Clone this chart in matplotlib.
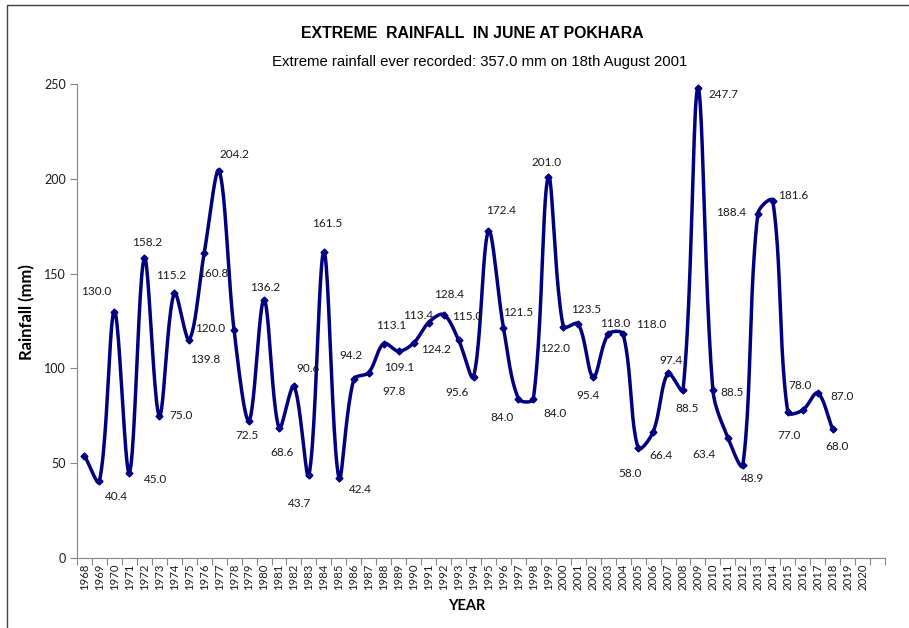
import numpy as np
import matplotlib
matplotlib.use("Agg")
import matplotlib.pyplot as plt
from matplotlib.patches import Rectangle

# categories on the x axis (last slot has no label)
year_labels = [str(y) for y in range(1968, 2021)] + [""]

# June extreme rainfall, 1968-2018 (mm)
rain_years = list(range(1968, 2019))
rainfall = [54.0, 40.4, 130.0, 45.0, 158.2, 75.0, 139.8, 115.2, 160.8, 204.2,
            120.0, 72.5, 136.2, 68.6, 90.6, 43.7, 161.5, 42.4, 94.2, 97.8,
            113.1, 109.1, 113.4, 124.2, 128.4, 115.0, 95.6, 172.4, 121.5, 84.0,
            84.0, 201.0, 122.0, 123.5, 95.4, 118.0, 118.0, 58.0, 66.4, 97.4,
            88.5, 247.7, 88.5, 63.4, 48.9, 181.6, 188.4, 77.0, 78.0, 87.0, 68.0]

# where each data label sits relative to its point (pixels, right / down)
label_offsets = [None, (17, 15), (-18, -20), (26, 7), (3, -16), (22, 0), (31, 67),
                 (-18, -64), (9, 20), (15, -16), (-24, -2), (-2, 15), (1, -12),
                 (3, 25), (14, -18), (-9, 28), (3, -28), (22, 12), (-3, -24),
                 (25, 19), (7, -18), (0, 16), (4, -27), (7, 27), (5, -20),
                 (9, -23), (-16, 16), (13, -21), (15, -15), (-16, 19), (22, 15),
                 (-2, -14), (-8, 22), (8, -14), (-5, 18), (7, -11), (28, -10),
                 (-8, 25), (8, 23), (3, -13), (4, 18), (26, 6), (19, 2),
                 (-24, 17), (10, 13), (35, -18), (-42, 12), (1, 23), (-3, -25),
                 (24, 3), (4, 17)]

navy = "#000080"
num_font = "Lato"
W, H = 909, 628
ax_box = [77, 70, 808, 474]  # left, bottom, width, height in pixels


def smooth(xs, ys, sx, sy, n=24):
    # excel-like smoothed line: bezier with tangents scaled by screen chord lengths
    p = np.column_stack([np.array(xs, float) * sx, np.array(ys, float) * sy])
    p = np.vstack([p[0], p, p[-1]])
    t = np.linspace(0, 1, n)[:, None]
    out = []
    for i in range(1, len(p) - 2):
        p0, p1, p2, p3 = p[i - 1], p[i], p[i + 1], p[i + 2]
        d01 = np.linalg.norm(p1 - p0)
        d12 = np.linalg.norm(p2 - p1)
        d23 = np.linalg.norm(p3 - p2)
        f1 = d12 / (d01 + d12) if d01 + d12 > 0 else 0
        f2 = d12 / (d12 + d23) if d12 + d23 > 0 else 0
        c1 = p1 + (p2 - p0) * f1 / 3
        c2 = p2 - (p3 - p1) * f2 / 3
        b = (1 - t) ** 3 * p1 + 3 * (1 - t) ** 2 * t * c1 \
            + 3 * (1 - t) * t ** 2 * c2 + t ** 3 * p2
        out.append(b)
    out = np.vstack(out)
    return out[:, 0] / sx, out[:, 1] / sy


fig = plt.figure(figsize=(W / 100, H / 100), dpi=100)
fig.patches.append(Rectangle((7 / W, -0.1), 1.2, (H - 5) / H + 0.1,
                             transform=fig.transFigure, fill=False,
                             edgecolor="#404040", linewidth=1.0))

ax = fig.add_axes([ax_box[0] / W, ax_box[1] / H, ax_box[2] / W, ax_box[3] / H])
ncat = len(year_labels)

xs = [y - 1968 for y in rain_years]
px_per_cat = ax_box[2] / ncat
px_per_mm = ax_box[3] / 250
cx, cy = smooth(xs, rainfall, px_per_cat, px_per_mm)
ax.plot(cx, cy, color=navy, linewidth=2.5, solid_capstyle="round", zorder=2)
ax.plot(xs, rainfall, linestyle="none", marker="D", markersize=3.5,
        color=navy, zorder=3)

for x, v, off in zip(xs, rainfall, label_offsets):
    if off is None:
        continue
    ax.annotate(f"{v:.1f}", (x, v), xytext=(off[0], -off[1]),
                textcoords="offset pixels", ha="center", va="center",
                fontsize=8.5, family=num_font, color="#1a1a1a")

ax.set_xlim(-0.5, ncat - 0.5)
ax.set_ylim(0, 250)
ax.set_xticks(range(ncat))
ax.set_xticklabels(year_labels, rotation=90, fontsize=8.2, family=num_font,
                   color="#1a1a1a")
ax.set_xticks(np.arange(-0.5, ncat, 1), minor=True)
ax.tick_params(axis="x", which="major", length=0, pad=4)
ax.tick_params(axis="x", which="minor", length=5, color="#868686", width=0.8)
ax.set_yticks([0, 50, 100, 150, 200, 250])
ax.tick_params(axis="y", length=5, color="#868686", width=0.8, pad=3,
               labelsize=9, labelcolor="#1a1a1a")
for lab in ax.get_yticklabels():
    lab.set_family(num_font)

for s in ["top", "right"]:
    ax.spines[s].set_visible(False)
for s in ["left", "bottom"]:
    ax.spines[s].set_color("#868686")
    ax.spines[s].set_linewidth(0.8)

fig.text(27 / W, 1 - 312 / H, "Rainfall (mm)", rotation=90, ha="center",
         va="center", fontsize=12, family=num_font, fontweight="bold")
fig.text(467 / W, 1 - 606 / H, "YEAR", ha="center", va="center",
         fontsize=10.5, family=num_font, fontweight="bold")

fig.text(472 / W, 1 - 33 / H, "EXTREME  RAINFALL  IN JUNE AT POKHARA",
         ha="center", va="center", fontsize=11.4, fontweight="bold",
         family="Liberation Sans")
fig.text(480 / W, 1 - 62 / H,
         "Extreme rainfall ever recorded: 357.0 mm on 18th August 2001",
         ha="center", va="center", fontsize=10.75, family="Liberation Sans")

fig.savefig("out.png", dpi=100)
